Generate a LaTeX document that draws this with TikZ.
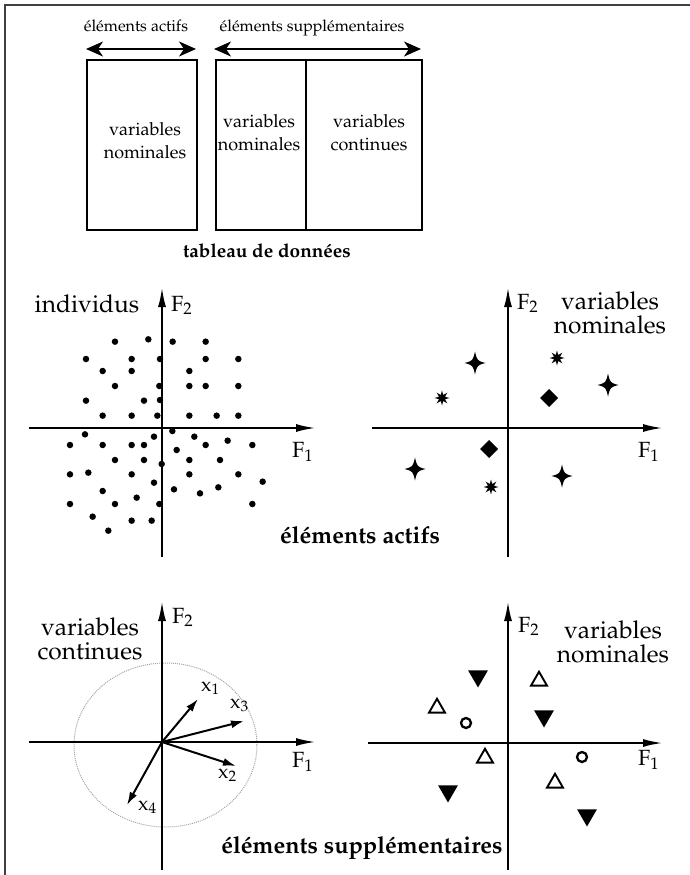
\documentclass[tikz,border=0pt]{standalone}
\usepackage[T1]{fontenc}
\usepackage{mathpazo}
\usetikzlibrary{arrows.meta,shapes.geometric}
\begin{document}
\begin{tikzpicture}[x=1pt,y=-1pt,
  frame/.style={line width=1.8pt, black!75},
  tbox/.style={draw, line width=2pt, inner sep=0pt},
  axis/.style={line width=2.2pt, -{Latex[length=20pt,width=8pt]}},
  span/.style={line width=1.8pt, {Stealth[length=17pt,width=15pt,inset=5pt]}-{Stealth[length=17pt,width=15pt,inset=5pt]}},
  vec/.style={line width=2pt, -{Latex[length=13pt,width=8pt]}},
  small/.style={font=\fontsize{16}{23}\selectfont, align=center, inner sep=0pt},
  boxt/.style={font=\fontsize{18}{23}\selectfont, align=center, inner sep=0pt},
  big/.style={font=\fontsize{24.5}{24}\selectfont, align=center, inner sep=0pt},
  ttl/.style={font=\fontsize{19}{20}\selectfont\bfseries, inner sep=0pt, anchor=base},
  ttlbig/.style={font=\fontsize{23.5}{24}\selectfont\bfseries, inner sep=0pt, anchor=base},
  flab/.style={font=\fontsize{22}{24}\selectfont, inner sep=0pt, anchor=base west},
  xlab/.style={font=\fontsize{20}{22}\selectfont, inner sep=0pt, anchor=base west},
  dot/.style={circle, fill, inner sep=0pt, minimum size=6.5pt},
  dtri/.style={regular polygon, regular polygon sides=3, shape border rotate=180, fill, inner sep=0pt, minimum size=23pt},
  otri/.style={regular polygon, regular polygon sides=3, draw, line width=1.9pt, inner sep=0pt, minimum size=18.5pt},
  ocirc/.style={circle, draw, line width=2.3pt, inner sep=0pt, minimum size=10pt},
  sparkle/.pic={\fill (0,-11.5) .. controls (2.2,-2.2) .. (10.5,0) .. controls (2.2,2.2) .. (0,11.5)
      .. controls (-2.2,2.2) .. (-10.5,0) .. controls (-2.2,-2.2) .. (0,-11.5) -- cycle;},
  aster/.pic={\fill (0:7.5) \foreach \k in {1,...,15} {-- ({\k*22.5}:{ifthenelse(mod(\k,2)==1,3.2,7.5)})} -- cycle;},
  diam/.pic={\fill (0,-9) -- (9,0) -- (0,9) -- (-9,0) -- cycle;}
]
\useasboundingbox (0,0) rectangle (690,875);
% frame (top and left only)
\draw[frame] (5,875) -- (5,5) -- (690,5);

% ---------------- top: data table ----------------
\node[small, anchor=base] (tA) at (136,32) {éléments actifs};
\node[small, anchor=base] (tS) at (312,32) {éléments supplémentaires};
\coordinate (aL) at (86,49); \coordinate (aR) at (196,49);
\coordinate (sL) at (214,49); \coordinate (sR) at (421,49);
\draw[span] (aL) -- (aR);
\draw[span] (sL) -- (sR);
\node[tbox, minimum width=110pt, minimum height=170pt] (b1) at (142,145) {};
\node[tbox, minimum width=206pt, minimum height=170pt] (b2) at (319,145) {};
\coordinate (dT) at (306,60); \coordinate (dB) at (306,230);
\draw[line width=2pt] (dT) -- (dB);
\node[boxt] (b1t) at (145,141) {variables\\nominales};
\node[boxt] (b2l) at (259,133) {variables\\nominales};
\node[boxt] (b2r) at (369,133) {variables\\continues};
\node[ttl] (tab) at (267,257) {tableau de données};

% ---------------- middle left: individus ----------------
\coordinate (m1b) at (162,557); \coordinate (m1t) at (162,287);
\coordinate (m1l) at (29,428);  \coordinate (m1r) at (316,428);
\draw[axis] (m1b) -- (m1t);
\draw[axis] (m1l) -- (m1r);
\node[big, anchor=base] (ind) at (87,312) {individus};
\node[flab] (m1F2) at (171,311) {F$_2$};
\node[flab] (m1F1) at (292,457) {F$_1$};
\begin{scope}[shift={(0,280)}, x=0.33333pt, y=-0.33333pt]
\foreach \px/\py [count=\i] in {345/185,445/178,518/185,617/185,
  258/237,395/237,480/237,617/237,715/237,
  308/273,395/273,568/273,
  345/318,478/318,568/318,617/318,715/318,
  258/362,432/362,480/360,
  308/407,395/407,472/407,568/407,650/407,715/407,
  255/463,462/470,517/453,583/470,683/482,
  210/495,308/495,395/495,432/495,617/495,757/495,
  530/510,
  345/540,432/540,568/540,660/540,
  485/552,
  210/583,265/578,395/583,568/583,715/583,
  462/608,788/605,
  308/633,522/628,600/640,655/622,
  410/653,
  210/672,345/672,478/672,757/672,
  278/710,395/722,455/722,
  325/752}
  \node[dot] (d\i) at (\px,\py) {};
\end{scope}

% ---------------- middle right: variables nominales (actives) ----------------
\coordinate (m2b) at (508,557); \coordinate (m2t) at (508,287);
\coordinate (m2l) at (372,428); \coordinate (m2r) at (663,428);
\draw[axis] (m2b) -- (m2t);
\draw[axis] (m2l) -- (m2r);
\node[flab] (m2F2) at (517,309) {F$_2$};
\node[flab] (m2F1) at (638,457) {F$_1$};
\node[big] (m2t1) at (610,313) {variables\\nominales};
\pic (sp1) at (475,363) {sparkle};
\pic (sp2) at (608,385) {sparkle};
\pic (sp3) at (415,469) {sparkle};
\pic (sp4) at (562,476) {sparkle};
\pic (as1) at (557,358) {aster};
\pic (as2) at (442,398) {aster};
\pic (as3) at (491,487) {aster};
\pic (di1) at (549,398) {diam};
\pic (di2) at (489,449) {diam};
\node[ttlbig] (actifs) at (360,543) {éléments actifs};

% ---------------- bottom left: variables continues ----------------
\coordinate (c1) at (162,742);
\coordinate (b3b) at (162,870); \coordinate (b3t) at (162,601);
\coordinate (b3l) at (29,742);  \coordinate (b3r) at (316,742);
\draw[gray!70, line width=1pt, dash pattern=on 1pt off 1pt] (165.5,745) ellipse [x radius=91.5pt, y radius=82pt];
\draw[axis] (b3b) -- (b3t);
\draw[axis] (b3l) -- (b3r);
\node[flab] (b3F2) at (172,623) {F$_2$};
\node[flab] (b3F1) at (292,767) {F$_1$};
\node[big] (b3t1) at (90,639) {variables\\continues};
\coordinate (v1) at (198,699);
\coordinate (v2) at (236,766);
\coordinate (v3) at (244,721);
\coordinate (v4) at (127,805);
\draw[vec] (c1) -- (v1);
\draw[vec] (c1) -- (v2);
\draw[vec] (c1) -- (v3);
\draw[vec] (c1) -- (v4);
\node[xlab] (x1) at (201,691) {x$_1$};
\node[xlab] (x3) at (230,708) {x$_3$};
\node[xlab] (x2) at (218,778) {x$_2$};
\node[xlab] (x4) at (138,810) {x$_4$};

% ---------------- bottom right: variables nominales (suppl.) ----------------
\coordinate (b4b) at (508,870); \coordinate (b4t) at (508,601);
\coordinate (b4l) at (368,743); \coordinate (b4r) at (663,743);
\draw[axis] (b4b) -- (b4t);
\draw[axis] (b4l) -- (b4r);
\node[flab] (b4F2) at (518,632) {F$_2$};
\node[flab] (b4F1) at (638,765) {F$_1$};
\node[big] (b4t1) at (613,642) {variables\\nominales};
\node[dtri] (dt1) at (478,676) {};
\node[dtri] (dt2) at (544,716) {};
\node[dtri] (dt3) at (448,791) {};
\node[dtri] (dt4) at (587,815) {};
\node[otri] (ot1) at (539,681) {};
\node[otri] (ot2) at (437,708) {};
\node[otri] (ot3) at (485,758) {};
\node[otri] (ot4) at (555,783) {};
\node[ocirc] (oc1) at (466,723) {};
\node[ocirc] (oc2) at (582,757) {};
\node[ttlbig] (suppl) at (362,853) {éléments supplémentaires};
\end{tikzpicture}
\end{document}
